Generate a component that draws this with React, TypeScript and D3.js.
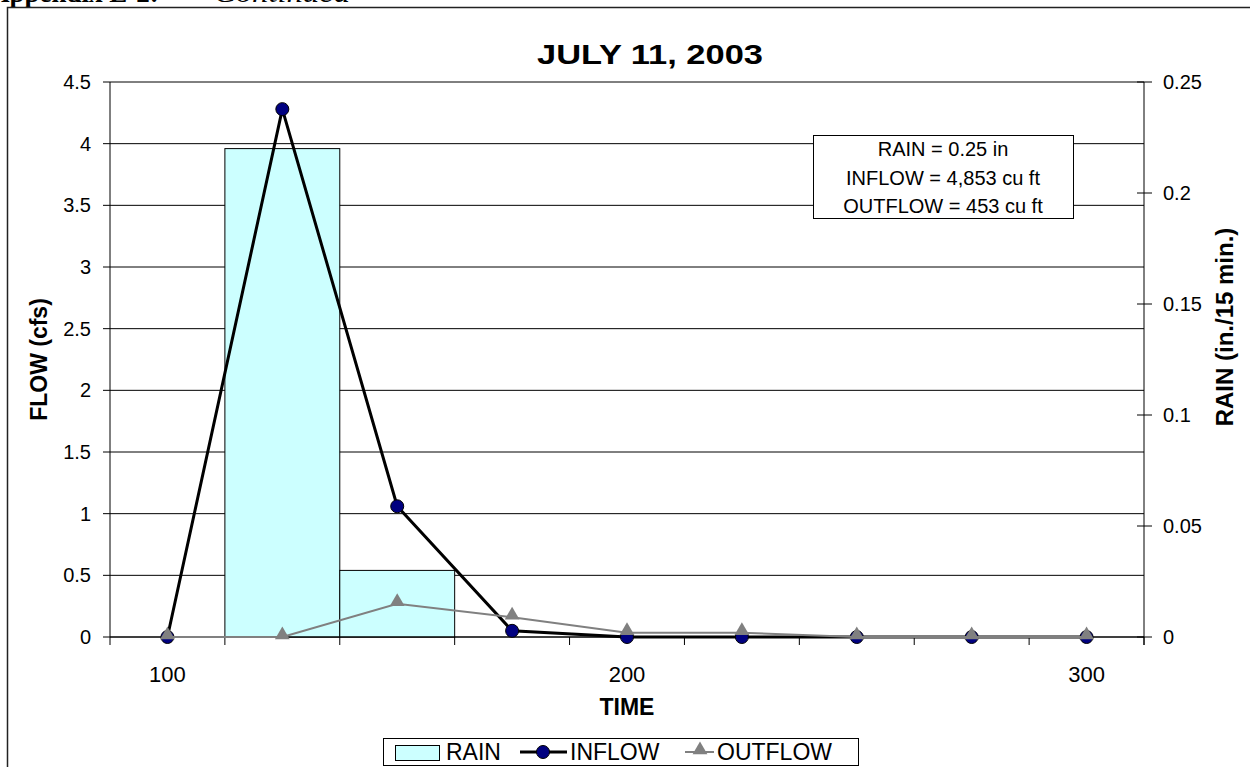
import React from "react";
import * as d3 from "d3";

const times = ["100", "125", "150", "175", "200", "225", "250", "275", "300"];
const shownTimeLabels = ["100", "200", "300"];
const rain = [0, 0.22, 0.03, 0, 0, 0, 0, 0, 0];
const inflow = [0, 4.28, 1.06, 0.05, 0, 0, 0, 0, 0];
const outflow = [0, 0, 0.27, 0.16, 0.035, 0.035, 0, 0, 0];
const flowTicks = [0, 0.5, 1, 1.5, 2, 2.5, 3, 3.5, 4, 4.5];
const rainTicks = [0, 0.05, 0.1, 0.15, 0.2, 0.25];
const noteLines = ["RAIN = 0.25 in", "INFLOW = 4,853 cu ft", "OUTFLOW = 453 cu ft"];

const W = 1250;
const H = 767;
const left = 110;
const right = 1144;
const top = 82;
const bottom = 637;
const FONT = "'Liberation Sans', Arial, Helvetica, sans-serif";

export default function App() {
  const x = d3.scaleBand<string>().domain(times).range([left, right]).paddingInner(0).paddingOuter(0);
  const yL = d3.scaleLinear().domain([0, 4.5]).range([bottom, top]);
  const yR = d3.scaleLinear().domain([0, 0.25]).range([bottom, top]);
  const cx = (t: string) => (x(t) as number) + x.bandwidth() / 2;

  const inflowLine = d3
    .line<number>()
    .x((_, i) => cx(times[i]))
    .y((d) => yL(d))(inflow) as string;
  const outflowLine = d3
    .line<number>()
    .x((_, i) => cx(times[i]))
    .y((d) => yL(d))(outflow) as string;

  const tri = d3.symbol().type(d3.symbolTriangle).size(95)() as string;
  const boundaries = [...times.map((t) => x(t) as number), right];

  return (
    <svg
      width={W}
      height={H}
      style={{ position: "absolute", left: 0, top: 0, background: "#fff" }}
      fontFamily={FONT}
    >
      <rect x={0} y={0} width={W} height={H} fill="#fff" />
      {/* page header (mostly cut off at the top edge, as in the reference) */}
      <text x={-10} y={2} fontFamily="'Liberation Serif', 'Times New Roman', serif" fontSize={27} fontWeight="bold">
        Appendix E-2:
      </text>
      <text x={214} y={2} fontFamily="'Liberation Serif', 'Times New Roman', serif" fontSize={27} fontStyle="italic" textLength={136} lengthAdjust="spacingAndGlyphs">
        Continued
      </text>
      {/* chart frame */}
      <rect x={7.5} y={7.5} width={1300} height={800} fill="none" stroke="#222" strokeWidth={1.5} />

      {/* title */}
      <text x={650} y={64} textAnchor="middle" fontSize={28} fontWeight="bold" textLength={226} lengthAdjust="spacingAndGlyphs">
        JULY 11, 2003
      </text>

      {/* gridlines */}
      {flowTicks.map((t) => (
        <line key={"g" + t} x1={left} x2={right} y1={yL(t)} y2={yL(t)} stroke="#000" strokeWidth={1} />
      ))}

      {/* rain bars */}
      {rain.map((r, i) =>
        r > 0 ? (
          <rect
            key={"b" + i}
            x={x(times[i]) as number}
            y={yR(r)}
            width={x.bandwidth()}
            height={yR(0) - yR(r)}
            fill="#CCFFFF"
            stroke="#000"
            strokeWidth={1}
          />
        ) : null
      )}

      {/* axes */}
      <line x1={left} x2={left} y1={top} y2={bottom} stroke="#000" strokeWidth={1} />
      <line x1={right} x2={right} y1={top} y2={bottom + 8} stroke="#000" strokeWidth={1} />
      <line x1={left} x2={right} y1={bottom} y2={bottom} stroke="#000" strokeWidth={1} />
      {flowTicks.map((t) => (
        <g key={"lt" + t}>
          <line x1={left - 7} x2={left} y1={yL(t)} y2={yL(t)} stroke="#000" />
          <text x={91} y={yL(t) + 7} textAnchor="end" fontSize={20}>
            {String(t)}
          </text>
        </g>
      ))}
      {rainTicks.map((t) => (
        <g key={"rt" + t}>
          <line x1={right - 7} x2={right + 8} y1={yR(t)} y2={yR(t)} stroke="#000" />
          <text x={1163} y={yR(t) + 7} fontSize={20}>
            {String(t)}
          </text>
        </g>
      ))}
      {boundaries.map((b, i) => (
        <line key={"xt" + i} x1={b} x2={b} y1={bottom} y2={bottom + 8} stroke="#000" />
      ))}
      {shownTimeLabels.map((t) => (
        <text key={"xl" + t} x={cx(t)} y={682} textAnchor="middle" fontSize={22}>
          {t}
        </text>
      ))}

      {/* axis titles */}
      <text x={627} y={715} textAnchor="middle" fontSize={23} fontWeight="bold">
        TIME
      </text>
      <text transform={`translate(47,${(top + bottom) / 2}) rotate(-90)`} textAnchor="middle" fontSize={23} fontWeight="bold">
        FLOW (cfs)
      </text>
      <text transform={`translate(1233,327) rotate(-90)`} textAnchor="middle" fontSize={24} fontWeight="bold">
        RAIN (in./15 min.)
      </text>

      {/* inflow */}
      <path d={inflowLine} fill="none" stroke="#000" strokeWidth={3} />
      {inflow.map((v, i) => (
        <circle key={"ic" + i} cx={cx(times[i])} cy={yL(v)} r={6.5} fill="#000080" stroke="#000" strokeWidth={1} />
      ))}

      {/* outflow */}
      <path d={outflowLine} fill="none" stroke="#808080" strokeWidth={2} />
      {outflow.map((v, i) => (
        <path key={"ot" + i} d={tri} transform={`translate(${cx(times[i])},${yL(v) - 2})`} fill="#808080" />
      ))}

      {/* annotation box */}
      <rect x={813.5} y={135.5} width={260} height={83} fill="#fff" stroke="#000" strokeWidth={1} />
      {noteLines.map((l, i) => (
        <text key={"n" + i} x={943} y={156 + i * 28.5} textAnchor="middle" fontSize={20}>
          {l}
        </text>
      ))}

      {/* legend */}
      <rect x={383.5} y={738.5} width={475} height={27} fill="#fff" stroke="#000" strokeWidth={1} />
      <rect x={395.5} y={745.5} width={44} height={15} fill="#CCFFFF" stroke="#000" strokeWidth={1} />
      <text x={446} y={760} fontSize={23}>RAIN</text>
      <line x1={520} x2={567} y1={752} y2={752} stroke="#000" strokeWidth={3} />
      <circle cx={543} cy={752} r={6.5} fill="#000080" stroke="#000" strokeWidth={1} />
      <text x={570} y={760} fontSize={23}>INFLOW</text>
      <line x1={685} x2={714} y1={752} y2={752} stroke="#808080" strokeWidth={2} />
      <path d={tri} transform="translate(700,750)" fill="#808080" />
      <text x={717} y={760} fontSize={23}>OUTFLOW</text>
    </svg>
  );
}
